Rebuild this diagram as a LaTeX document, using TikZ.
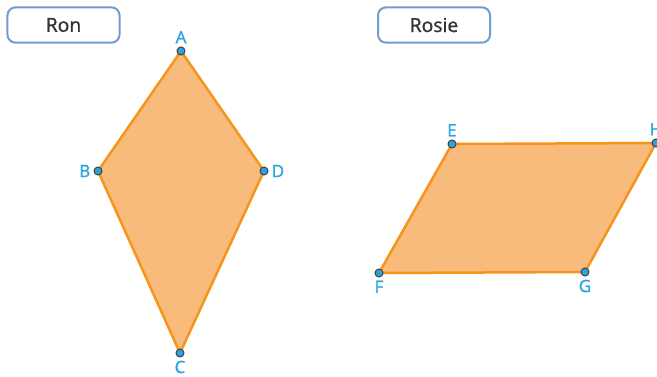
\documentclass[tikz,border=0pt]{standalone}
\usepackage{fontspec}
\setmainfont{Open Sans}
\newfontfamily\heavyfont[FakeBold=1.2]{Open Sans}
\usetikzlibrary{positioning}
\definecolor{fillorange}{HTML}{F9BB7C}
\definecolor{edgeorange}{HTML}{F7941D}
\definecolor{ptblue}{HTML}{2AA4DE}
\definecolor{boxblue}{HTML}{729DC8}

\begin{document}
\begin{tikzpicture}[
  x=0.3mm, y=-0.3mm,
  namebox/.style={draw=boxblue,line width=0.6mm,rounded corners=2.4mm,minimum width=33.6mm,minimum height=10.6mm,inner sep=0pt,font=\heavyfont\fontsize{16.5}{19}\selectfont,text=black!80},
  vertex/.style={circle,draw=black!75,fill=ptblue,inner sep=0pt,minimum size=2.4mm,line width=0.3mm},
  lbl/.style={text=ptblue,font=\heavyfont\fontsize{14.5}{17}\selectfont,inner sep=0.3mm},
  quad/.style={fill=fillorange,draw=edgeorange,line width=0.75mm,line join=round},
  label distance=0.6mm,
]
  \useasboundingbox (0,0) rectangle (657,376);

  \node[namebox] (ron)   at (63.5,25) {Ron};
  \node[namebox] (rosie) at (434,25)  {Rosie};

  % kite
  \coordinate (a) at (181,51);
  \coordinate (b) at (98,171);
  \coordinate (c) at (180,353);
  \coordinate (d) at (264,171);
  \draw[quad] (a) -- (b) -- (c) -- (d) -- cycle;

  % parallelogram
  \coordinate (e) at (452,144);
  \coordinate (f) at (379,273);
  \coordinate (g) at (585,272);
  \coordinate (h) at (656,143);
  \draw[quad] (e) -- (f) -- (g) -- (h) -- cycle;

  \node[vertex,label={[lbl]above:A}] (ptA) at (a) {};
  \node[vertex,label={[lbl]left:B}]  (ptB) at (b) {};
  \node[vertex,label={[lbl]below:C}] (ptC) at (c) {};
  \node[vertex,label={[lbl]right:D}] (ptD) at (d) {};
  \node[vertex,label={[lbl]above:E}] (ptE) at (e) {};
  \node[vertex,label={[lbl]below:F}] (ptF) at (f) {};
  \node[vertex,label={[lbl]below:G}] (ptG) at (g) {};
  \node[vertex,label={[lbl]above:H}] (ptH) at (h) {};
\end{tikzpicture}
\end{document}
